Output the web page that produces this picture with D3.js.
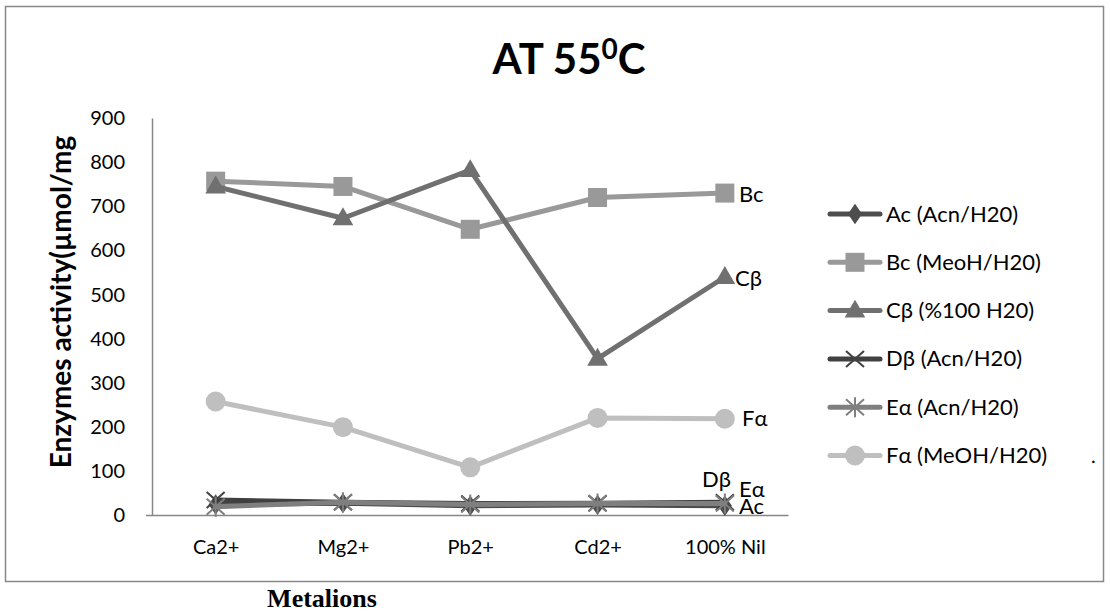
<!DOCTYPE html>
<html><head><meta charset="utf-8">
<script src="https://cdn.jsdelivr.net/npm/d3@7"></script>
<style>body{margin:0;background:#fff}svg{display:block}</style>
</head><body>
<svg id="c" width="1110" height="616"></svg>
<script>
const categories = ["Ca2+", "Mg2+", "Pb2+", "Cd2+", "100% Nil"];
const yTicks = [0, 100, 200, 300, 400, 500, 600, 700, 800, 900];
const seriesNames = ["Ac (Acn/H20)", "Bc (MeoH/H20)", "Cβ (%100 H20)", "Dβ (Acn/H20)", "Eα (Acn/H20)", "Fα (MeOH/H20)"];
const endLabels = ["Ac", "Bc", "Cβ", "Dβ", "Eα", "Fα"];
const acValues = [25, 28, 22, 24, 22];
const bcValues = [757, 745, 648, 720, 730];
const cbValues = [745, 673, 782, 355, 540];
const dbValues = [35, 30, 27, 28, 30];
const eaValues = [20, 30, 25, 27, 27];
const faValues = [258, 200, 109, 221, 219];

const series = [
  {name: seriesNames[0], label: endLabels[0], values: acValues, color: "#4d4d4d", sym: "diamond"},
  {name: seriesNames[1], label: endLabels[1], values: bcValues, color: "#999999", sym: "square"},
  {name: seriesNames[2], label: endLabels[2], values: cbValues, color: "#707070", sym: "triangle"},
  {name: seriesNames[3], label: endLabels[3], values: dbValues, color: "#404040", sym: "x"},
  {name: seriesNames[4], label: endLabels[4], values: eaValues, color: "#7f7f7f", sym: "star"},
  {name: seriesNames[5], label: endLabels[5], values: faValues, color: "#bfbfbf", sym: "circle"}
];
const labelPos = {"Ac": [739, 514], "Bc": [739, 202], "Cβ": [735, 286], "Dβ": [702, 487], "Eα": [739, 497], "Fα": [742, 426]};

const svg = d3.select("#c");
const font = "Lato, 'Open Sans', sans-serif";

svg.append("rect").attr("x", 5.5).attr("y", 6.5).attr("width", 1098).attr("height", 575)
  .attr("fill", "#fff").attr("stroke", "#888").attr("stroke-width", 1.5);

const x = d3.scalePoint().domain(categories).range([152, 788.5]).padding(0.5);
const y = d3.scaleLinear().domain([0, 900]).range([515.5, 118]);

// title
const t = svg.append("text").attr("x", 569).attr("y", 74).attr("text-anchor", "middle")
  .attr("font-family", font).attr("font-weight", "bold").attr("font-size", 42).attr("fill", "#000");
t.append("tspan").text("AT 55");
t.append("tspan").attr("dy", -15).attr("font-size", 28).text("0");
t.append("tspan").attr("dy", 15).text("C");

// y axis
const ya = svg.append("g").attr("transform", "translate(152,0)")
  .call(d3.axisLeft(y).tickValues(yTicks).tickSize(0).tickPadding(27));
ya.select(".domain").attr("stroke", "#868686").attr("stroke-width", 1.5);
ya.selectAll("text").attr("font-family", font).attr("font-size", 20).attr("fill", "#000");

// x axis
const xa = svg.append("g").attr("transform", "translate(0,515.5)")
  .call(d3.axisBottom(x).tickSize(0).tickPadding(24));
xa.select(".domain").attr("stroke", "#868686").attr("stroke-width", 1.5)
  .attr("d", "M146,0H788.5");
xa.selectAll("text").attr("font-family", font).attr("font-size", 20).attr("fill", "#000");

// axis titles
svg.append("text").attr("transform", "translate(71,302) rotate(-90)").attr("text-anchor", "middle")
  .attr("font-family", font).attr("font-weight", "bold").attr("font-size", 28).attr("fill", "#000")
  .text("Enzymes activity(µmol/mg");
svg.append("text").attr("x", 322).attr("y", 607).attr("text-anchor", "middle")
  .attr("font-family", "'Liberation Serif', serif").attr("font-weight", "bold").attr("font-size", 26).attr("fill", "#000")
  .text("Metalions");

function drawMarker(g, sym, color, cx, cy) {
  if (sym === "diamond") {
    g.append("path").attr("d", d3.symbol(d3.symbolDiamond, 120)()).attr("transform", `translate(${cx},${cy}) scale(1.2,1)`).attr("fill", color);
  } else if (sym === "square") {
    g.append("rect").attr("x", cx - 9.5).attr("y", cy - 9.5).attr("width", 19).attr("height", 19).attr("fill", color);
  } else if (sym === "triangle") {
    g.append("path").attr("d", d3.symbol(d3.symbolTriangle, 185)()).attr("transform", `translate(${cx},${cy + 1})`).attr("fill", color);
  } else if (sym === "x") {
    g.append("path").attr("d", `M${cx-9},${cy-8}L${cx+9},${cy+8}M${cx-9},${cy+8}L${cx+9},${cy-8}`).attr("stroke", color).attr("stroke-width", 2);
  } else if (sym === "star") {
    g.append("path").attr("d", `M${cx-9},${cy-8}L${cx+9},${cy+8}M${cx-9},${cy+8}L${cx+9},${cy-8}M${cx},${cy-10}L${cx},${cy+10}`).attr("stroke", color).attr("stroke-width", 2);
  } else if (sym === "circle") {
    g.append("circle").attr("cx", cx).attr("cy", cy).attr("r", 10).attr("fill", color);
  }
}

const line = d3.line().x((d, i) => x(categories[i])).y(d => y(d));
const plot = svg.append("g");
series.forEach(s => {
  const g = plot.append("g");
  g.append("path").datum(s.values).attr("d", line).attr("fill", "none")
    .attr("stroke", s.color).attr("stroke-width", 5).attr("stroke-linejoin", "round").attr("stroke-linecap", "round");
  s.values.forEach((v, i) => drawMarker(g, s.sym, s.color, x(categories[i]), y(v)));
});

// end labels
series.forEach(s => {
  const p = labelPos[s.label];
  svg.append("text").attr("x", p[0]).attr("y", p[1]).attr("font-family", font).attr("font-size", 22).attr("fill", "#000").text(s.label);
});

// legend
const lg = svg.append("g");
series.forEach((s, i) => {
  const cy = 214 + i * 48.3;
  const g = lg.append("g");
  g.append("line").attr("x1", 830).attr("x2", 880).attr("y1", cy).attr("y2", cy)
    .attr("stroke", s.color).attr("stroke-width", 5).attr("stroke-linecap", "round");
  drawMarker(g, s.sym, s.color, 855, cy);
  g.append("text").attr("x", 886).attr("y", cy + 7.5).attr("font-family", font).attr("font-size", 22).attr("fill", "#000").text(s.name);
});
svg.append("text").attr("x", 1091).attr("y", 463).attr("font-family", font).attr("font-size", 20).attr("fill", "#000").text(".");
</script>
</body></html>
